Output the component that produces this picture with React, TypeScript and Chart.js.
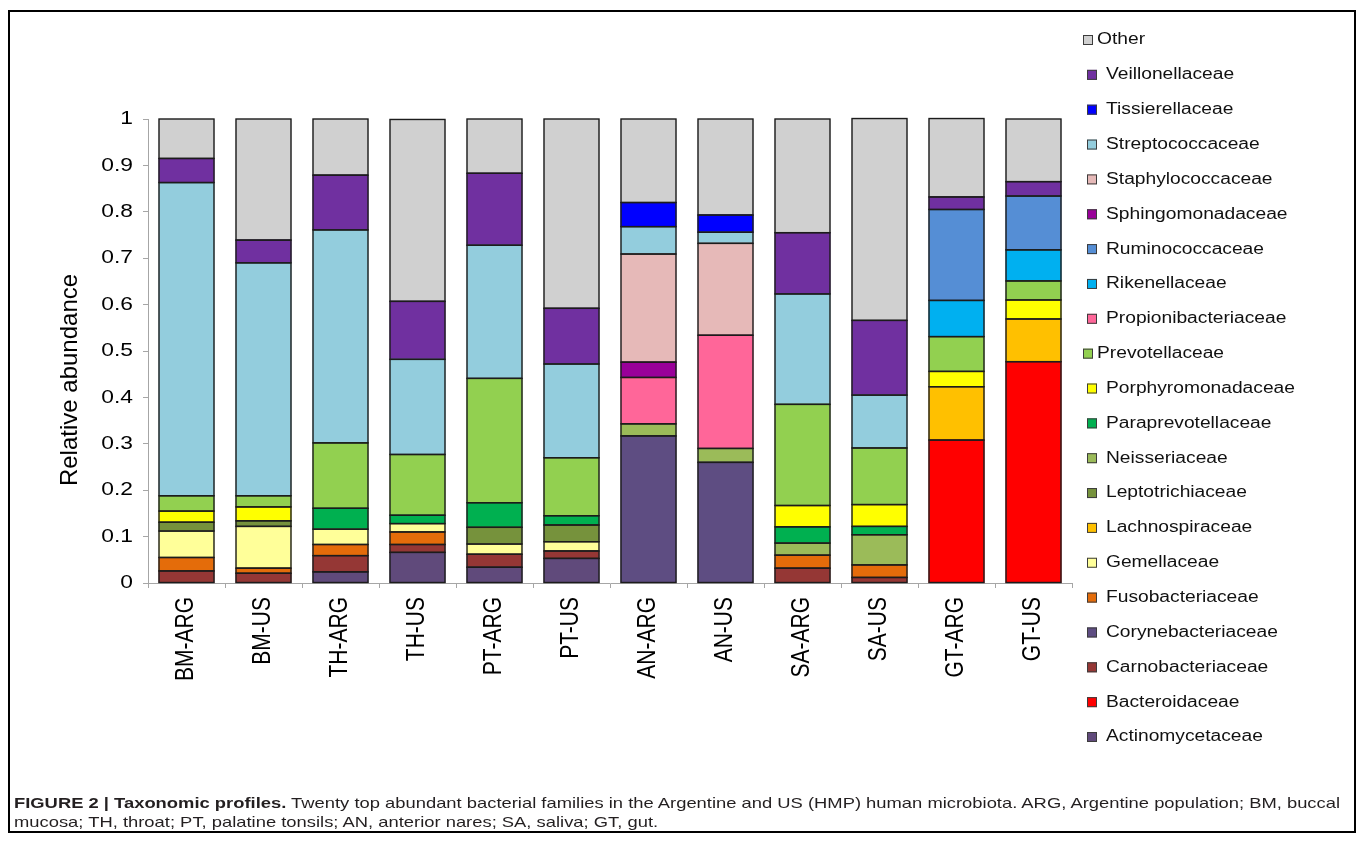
import React, { useEffect, useRef } from 'react';
import { Chart, registerables } from 'chart.js';

Chart.register(...registerables);

// ---------------- data ----------------
const categories = ['BM-ARG', 'BM-US', 'TH-ARG', 'TH-US', 'PT-ARG', 'PT-US', 'AN-ARG', 'AN-US', 'SA-ARG', 'SA-US', 'GT-ARG', 'GT-US'];

const yTicks = [0, 0.1, 0.2, 0.3, 0.4, 0.5, 0.6, 0.7, 0.8, 0.9, 1];

// stacked bottom -> top
const actinomycetaceae = [0, 0, 0.024, 0.066, 0.034, 0.053, 0, 0, 0, 0, 0, 0];
const bacteroidaceae = [0, 0, 0, 0, 0, 0, 0, 0, 0, 0, 0.308, 0.477];
const carnobacteriaceae = [0.026, 0.021, 0.035, 0.017, 0.028, 0.016, 0, 0, 0.032, 0.012, 0, 0];
const corynebacteriaceae = [0, 0, 0, 0, 0, 0, 0.317, 0.26, 0, 0, 0, 0];
const fusobacteriaceae = [0.029, 0.011, 0.024, 0.027, 0, 0, 0, 0, 0.028, 0.027, 0, 0];
const gemellaceae = [0.057, 0.09, 0.033, 0.018, 0.022, 0.02, 0, 0, 0, 0, 0, 0];
const lachnospiraceae = [0, 0, 0, 0, 0, 0, 0, 0, 0, 0, 0.115, 0.092];
const leptotrichiaceae = [0.019, 0.012, 0, 0, 0.036, 0.036, 0, 0, 0, 0, 0, 0];
const neisseriaceae = [0, 0, 0, 0, 0, 0, 0.026, 0.03, 0.026, 0.065, 0, 0];
const paraprevotellaceae = [0, 0, 0.045, 0.018, 0.053, 0.02, 0, 0, 0.035, 0.018, 0, 0];
const porphyromonadaceae = [0.024, 0.03, 0, 0, 0, 0, 0, 0, 0.046, 0.047, 0.033, 0.041];
const prevotellaceae = [0.033, 0.024, 0.141, 0.131, 0.268, 0.125, 0, 0, 0.218, 0.122, 0.075, 0.041];
const propionibacteriaceae = [0, 0, 0, 0, 0, 0, 0.1, 0.244, 0, 0, 0, 0];
const rikenellaceae = [0, 0, 0, 0, 0, 0, 0, 0, 0, 0, 0.078, 0.067];
const ruminococcaceae = [0, 0, 0, 0, 0, 0, 0, 0, 0, 0, 0.196, 0.116];
const sphingomonadaceae = [0, 0, 0, 0, 0, 0, 0.033, 0, 0, 0, 0, 0];
const staphylococcaceae = [0, 0, 0, 0, 0, 0, 0.233, 0.198, 0, 0, 0, 0];
const streptococcaceae = [0.675, 0.502, 0.459, 0.205, 0.287, 0.202, 0.059, 0.024, 0.238, 0.114, 0, 0];
const tissierellaceae = [0, 0, 0, 0, 0, 0, 0.052, 0.037, 0, 0, 0, 0];
const veillonellaceae = [0.052, 0.049, 0.118, 0.125, 0.155, 0.12, 0, 0, 0.132, 0.161, 0.027, 0.031];
const other = [0.085, 0.261, 0.121, 0.392, 0.117, 0.408, 0.18, 0.207, 0.245, 0.435, 0.169, 0.135];

const series: [string, number[]][] = [
  ['Actinomycetaceae', actinomycetaceae],
  ['Bacteroidaceae', bacteroidaceae],
  ['Carnobacteriaceae', carnobacteriaceae],
  ['Corynebacteriaceae', corynebacteriaceae],
  ['Fusobacteriaceae', fusobacteriaceae],
  ['Gemellaceae', gemellaceae],
  ['Lachnospiraceae', lachnospiraceae],
  ['Leptotrichiaceae', leptotrichiaceae],
  ['Neisseriaceae', neisseriaceae],
  ['Paraprevotellaceae', paraprevotellaceae],
  ['Porphyromonadaceae', porphyromonadaceae],
  ['Prevotellaceae', prevotellaceae],
  ['Propionibacteriaceae', propionibacteriaceae],
  ['Rikenellaceae', rikenellaceae],
  ['Ruminococcaceae', ruminococcaceae],
  ['Sphingomonadaceae', sphingomonadaceae],
  ['Staphylococcaceae', staphylococcaceae],
  ['Streptococcaceae', streptococcaceae],
  ['Tissierellaceae', tissierellaceae],
  ['Veillonellaceae', veillonellaceae],
  ['Other', other],
];

// ---------------- styles ----------------
const colors: Record<string, string> = {
  Actinomycetaceae: '#604A7B',
  Bacteroidaceae: '#FF0000',
  Carnobacteriaceae: '#953735',
  Corynebacteriaceae: '#5E4D82',
  Fusobacteriaceae: '#E46C0A',
  Gemellaceae: '#FFFF99',
  Lachnospiraceae: '#FFC000',
  Leptotrichiaceae: '#76923C',
  Neisseriaceae: '#9BBB59',
  Paraprevotellaceae: '#00B050',
  Porphyromonadaceae: '#FFFF00',
  Prevotellaceae: '#92D050',
  Propionibacteriaceae: '#FF6699',
  Rikenellaceae: '#00B0F0',
  Ruminococcaceae: '#558ED5',
  Sphingomonadaceae: '#990099',
  Staphylococcaceae: '#E6B9B8',
  Streptococcaceae: '#93CDDD',
  Tissierellaceae: '#0000FF',
  Veillonellaceae: '#7030A0',
  Other: '#D0D0D0',
};

const FONT = '"Liberation Sans", Arial, Helvetica, sans-serif';
const AXIS = '#A6A6A6';
const SX = 1.2;

function drawText(
  ctx: CanvasRenderingContext2D,
  text: string,
  x: number,
  y: number,
  align: CanvasTextAlign,
  rot: number,
  sx: number
) {
  ctx.save();
  ctx.translate(x, y);
  ctx.scale(sx, 1);
  if (rot) ctx.rotate(rot);
  ctx.textAlign = align;
  ctx.textBaseline = 'middle';
  ctx.fillText(text, 0, 0);
  ctx.restore();
}

// outlines each bar segment once (shared edges become a single line)
const outlinePlugin = {
  id: 'outlinePlugin',
  afterDatasetsDraw(chart: any) {
    const ctx: CanvasRenderingContext2D = chart.ctx;
    ctx.save();
    ctx.strokeStyle = '#1C1C1C';
    ctx.lineWidth = 1.4;
    chart.data.datasets.forEach((d: any, di: number) => {
      const meta = chart.getDatasetMeta(di);
      meta.data.forEach((el: any, i: number) => {
        if (d.data[i] == null) return;
        const { x, y, base, width } = el.getProps(['x', 'y', 'base', 'width'], true);
        const top = Math.min(y, base);
        const h = Math.abs(base - y);
        ctx.strokeRect(x - width / 2, top, width, h);
      });
    });
    ctx.restore();
  },
};

const textPlugin = {
  id: 'textPlugin',
  afterDraw(chart: any) {
    const ctx: CanvasRenderingContext2D = chart.ctx;
    const xs = chart.scales.x;
    const ys = chart.scales.y;
    const area = chart.chartArea;
    ctx.save();
    ctx.fillStyle = '#000';

    // y tick labels
    ctx.font = `19px ${FONT}`;
    ys.ticks.forEach((t: any, i: number) => {
      const y = ys.getPixelForTick(i);
      drawText(ctx, String(Number(t.value.toFixed(1))), area.left - 15, y, 'right', 0, SX);
    });

    // x labels (rotated)
    ctx.font = `21px ${FONT}`;
    (chart.data.labels as string[]).forEach((lab, i) => {
      const x = xs.getPixelForTick(i);
      drawText(ctx, lab, x, area.bottom + 14, 'right', -Math.PI / 2, SX);
    });

    // y title
    ctx.font = `24px ${FONT}`;
    drawText(ctx, 'Relative abundance', area.left - 78, (area.top + area.bottom) / 2 + 29, 'center', -Math.PI / 2, 1);

    // legend (top = last dataset)
    const ds = [...chart.data.datasets].reverse();
    ctx.font = `16px ${FONT}`;
    ds.forEach((d: any, i: number) => {
      const y = 40 + i * 34.85;
      const tight = d.label === 'Other' || d.label === 'Prevotellaceae';
      const bx = area.right + (tight ? 11 : 15);
      const tx = area.right + (tight ? 25 : 34);
      ctx.fillStyle = d.backgroundColor;
      ctx.fillRect(bx, y - 5, 10, 10);
      ctx.strokeStyle = '#3C3C3C';
      ctx.lineWidth = 1;
      ctx.strokeRect(bx + 0.5, y - 4.5, 9, 9);
      ctx.fillStyle = '#111';
      drawText(ctx, d.label, tx, y, 'left', 0, SX);
    });
    ctx.restore();
  },
};

export default function App() {
  const ref = useRef<HTMLCanvasElement | null>(null);

  useEffect(() => {
    if (!ref.current) return;
    const datasets = series.map(([label, values]) => ({
      label,
      data: values.map((v) => (v > 0 ? v : null)),
      backgroundColor: colors[label],
      borderWidth: 0,
      inflateAmount: 0.5,
      barPercentage: 0.714,
      categoryPercentage: 1,
    }));
    const chart = new Chart(ref.current, {
      type: 'bar',
      data: { labels: categories, datasets },
      options: {
        animation: false,
        responsive: false,
        layout: { padding: { left: 88, top: 119, right: 286, bottom: 158 } },
        plugins: { legend: { display: false }, tooltip: { enabled: false } },
        scales: {
          x: {
            stacked: true,
            grid: { display: true, drawOnChartArea: false, color: AXIS, tickLength: 5, offset: true },
            border: { color: AXIS, width: 1 },
            ticks: { display: false },
            afterFit: (s: any) => {
              s.height = 100;
            },
          },
          y: {
            stacked: true,
            min: 0,
            max: 1,
            afterBuildTicks: (s: any) => {
              s.ticks = yTicks.map((v) => ({ value: v }));
            },
            grid: { drawOnChartArea: false, color: AXIS, tickLength: 5 },
            border: { color: AXIS, width: 1 },
            ticks: { display: false },
            afterFit: (s: any) => {
              s.width = 60;
            },
          },
        },
      },
      plugins: [outlinePlugin, textPlugin],
    } as any);
    return () => chart.destroy();
  }, []);

  return (
    <div style={{ position: 'absolute', left: 0, top: 0, width: 1358, height: 841, background: '#fff', overflow: 'hidden' }}>
      <div
        style={{
          position: 'absolute',
          left: 8,
          top: 10,
          width: 1344,
          height: 819,
          border: '2px solid #000',
        }}
      />
      <canvas ref={ref} width={1358} height={841} style={{ position: 'absolute', left: 0, top: 0, width: 1358, height: 841 }} />
      <div
        style={{
          position: 'absolute',
          left: 14,
          top: 793,
          fontFamily: FONT,
          fontSize: 15,
          lineHeight: '19px',
          color: '#231F20',
          whiteSpace: 'nowrap',
          transform: 'scaleX(1.225)',
          transformOrigin: '0 0',
        }}
      >
        <b>FIGURE 2 | Taxonomic profiles.</b> Twenty top abundant bacterial families in the Argentine and US (HMP) human microbiota. ARG, Argentine population; BM, buccal
        <br />
        mucosa; TH, throat; PT, palatine tonsils; AN, anterior nares; SA, saliva; GT, gut.
      </div>
    </div>
  );
}
